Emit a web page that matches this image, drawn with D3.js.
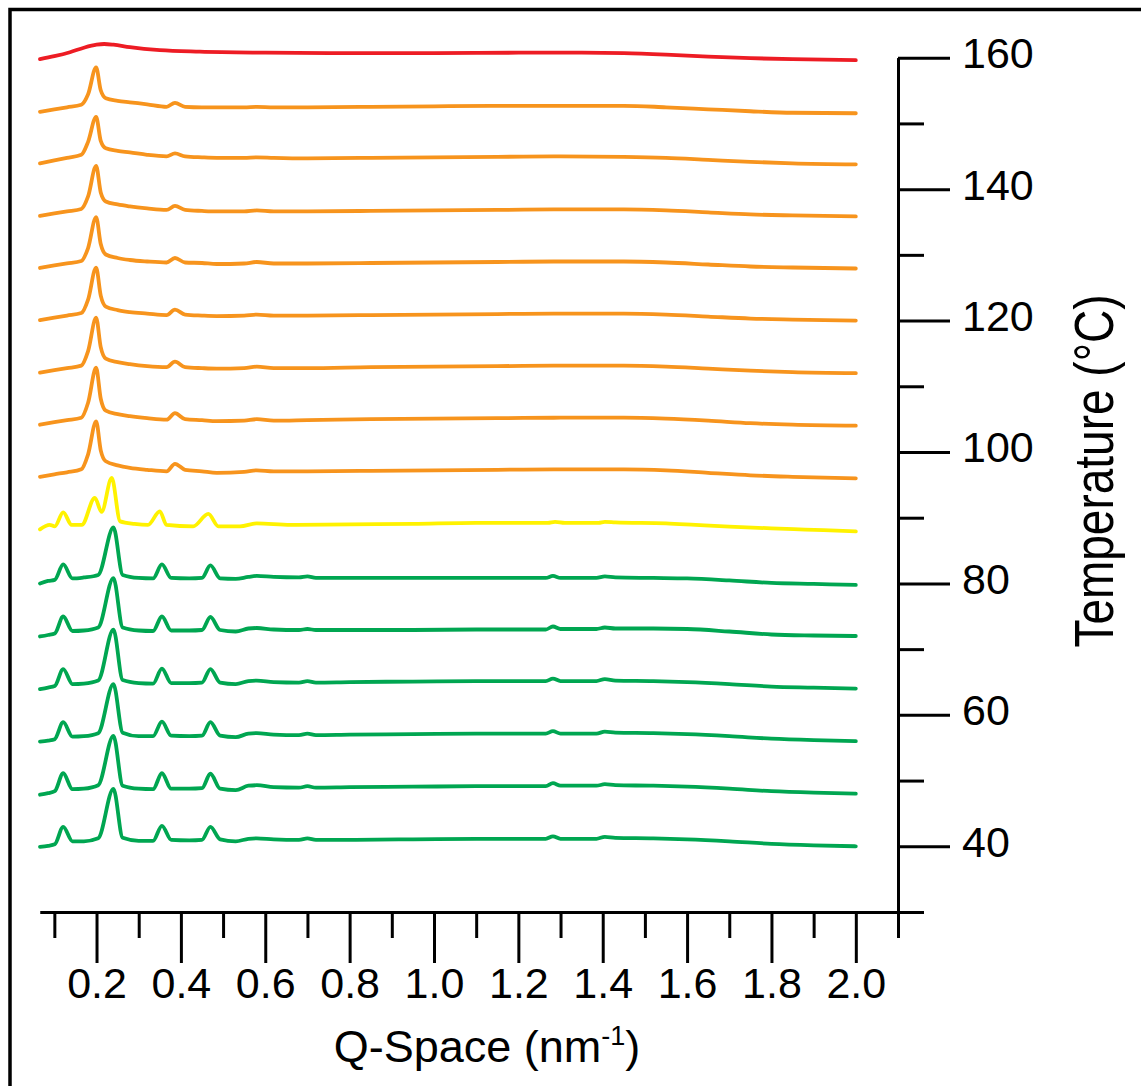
<!DOCTYPE html>
<html>
<head>
<meta charset="utf-8">
<script src="https://cdn.jsdelivr.net/npm/d3@7"></script>
<style>
  body { margin: 0; background: #fff; }
  svg { display: block; }
  text { font-family: "Liberation Sans", Arial, Helvetica, sans-serif; fill: #000; }
</style>
</head>
<body>
<svg id="chart" width="1141" height="1086"></svg>
<script>
// temperatures of the stacked scans (°C), bottom to top
var temps = [40, 48, 56, 64, 72, 80, 88, 96, 104, 112, 120, 128, 136, 144, 152, 160];
var phases = ["green", "green", "green", "green", "green", "green", "yellow",
    "orange", "orange", "orange", "orange", "orange", "orange", "orange", "orange", "red"];
var phaseColor = { green: "#00a651", yellow: "#fff200", orange: "#f7941d", red: "#ed1c24" };

// tick values
var qMajor = [0.2, 0.4, 0.6, 0.8, 1.0, 1.2, 1.4, 1.6, 1.8, 2.0];
var qMinor = [0.1, 0.3, 0.5, 0.7, 0.9, 1.1, 1.3, 1.5, 1.7, 1.9, 2.1];
var tMajor = [40, 60, 80, 100, 120, 140, 160];
var tMinor = [30, 50, 70, 90, 110, 130, 150];

// green scans (40-80 °C), intensity in a.u. above the temperature baseline
var qGreen = [0.066, 0.085, 0.101, 0.121, 0.143, 0.17, 0.204, 0.240, 0.262, 0.30, 0.334, 0.355, 0.377,
    0.42, 0.450, 0.470, 0.493, 0.53, 0.56, 0.58, 0.62, 0.68, 0.70, 0.72, 0.80, 0.95, 1.10, 1.265,
    1.282, 1.30, 1.385, 1.405, 1.43, 1.52, 1.60, 1.70, 1.80, 1.90, 2.0];
var green = [
    // 40
    [-0.5, 0.5, 2, 19.5, 5, 5, 8, 57.5, 8.5, 5.5, 5.5, 20.5, 6.5, 6, 6.5, 19.5, 7, 5, 7.5, 8, 7, 6.5, 8, 6.5,
     6.5, 7, 7.5, 7.5, 10, 7.5, 7.5, 9.5, 8.5, 8, 7, 5, 2.5, 1, 0],
    // 48
    [-1, 0.5, 2.5, 20.5, 4.5, 5, 8.5, 58, 8, 5, 4.5, 20.5, 5, 5, 5.5, 20, 5, 3.5, 8, 8.5, 6.5, 6, 7.5, 6,
     6.5, 7, 7.5, 7.5, 10.5, 8, 8, 9.5, 8.5, 8, 7, 5, 2.5, 1, 0],
    // 56
    [-0.5, 0.5, 2, 19, 4.5, 5, 8, 57, 8.5, 5, 5, 19.5, 5.5, 5, 5.5, 19, 5.5, 4, 7.5, 8, 6.5, 6, 7.5, 6,
     6.5, 7, 7.5, 7.5, 10, 7.5, 7.5, 9.5, 8.5, 8, 7, 5, 2.5, 1, 0],
    // 64
    [-0.5, 1, 2.5, 19.5, 4.5, 5, 8, 59, 8.5, 5.5, 5, 20, 5.5, 5.5, 6, 19.5, 6, 4.5, 7.5, 8, 6.5, 6, 7.5, 6,
     6.5, 7, 7.5, 7.5, 10, 7.5, 7.5, 9.5, 8, 7.5, 6.5, 4.5, 2, 1, 0],
    // 72
    [-0.5, 1, 2.5, 19.5, 5, 5.5, 8.5, 58, 8.5, 5.5, 5, 19.5, 5.5, 5.5, 6, 19, 6, 4.5, 7.5, 8, 6.5, 6, 7, 6,
     6, 6, 6.5, 6.5, 9.5, 7, 7, 8.5, 7.5, 7.5, 7, 4.5, 1.5, 0.5, 0],
    // 80
    [0, 2.5, 3.5, 19, 5, 6, 8.5, 56, 8.5, 5.5, 5, 19, 5.5, 5, 5.5, 18, 5, 4.5, 6.5, 7.5, 6.5, 6, 7, 5.5,
     5.5, 5.5, 5.5, 5.5, 7.5, 5.5, 5.5, 7, 6, 5.5, 5, 3, 0.5, -0.5, -1.5]
];

// yellow scan (88 °C)
var qYellow = [0.066, 0.089, 0.101, 0.121, 0.141, 0.165, 0.196, 0.212, 0.236, 0.256, 0.29, 0.322, 0.350,
    0.366, 0.429, 0.465, 0.489, 0.54, 0.58, 0.66, 0.80, 0.95, 1.10, 1.27, 1.287, 1.31, 1.39, 1.405,
    1.43, 1.55, 1.62, 1.70, 1.80, 1.88, 2.0];
var yellow = [1.5, 6, 4.5, 18.5, 6, 6, 33, 19, 53, 9.5, 7, 6, 19.5, 6, 4.5, 17, 4.5, 4.5, 7.5, 6, 6.5, 7,
    8, 8, 9, 8, 8, 9, 8.5, 7.5, 6, 4.3, 2.5, 1.3, -0.5];

// orange scans (96-152 °C)
var qOrange = [0.066, 0.10, 0.13, 0.164, 0.180, 0.199, 0.210, 0.222, 0.25, 0.279, 0.32, 0.366, 0.386,
    0.41, 0.45, 0.485, 0.55, 0.58, 0.62, 0.70, 0.85, 1.00, 1.15, 1.30, 1.45, 1.55, 1.65, 1.75, 1.85, 2.0];
var orange = [
    // 96
    [1.5, 4, 6, 9, 24, 57, 28, 17, 13, 10.5, 8.5, 7, 14.5, 8.5, 7, 5.5, 6.5, 8, 7, 7, 7.5, 8, 8.5, 9, 9, 8, 5.5, 3, 1.5, 0],
    // 104
    [1, 3.5, 5.5, 8, 23, 58, 27, 15, 11.5, 9.5, 7.5, 6, 12.5, 6.5, 5.5, 4.5, 5, 6.5, 5, 5.5, 6.5, 7, 7.5, 8, 8, 7, 5, 2.5, 1, 0],
    // 112
    [0.5, 3, 5, 7.5, 22, 55.5, 26, 14.5, 11, 9, 7, 6, 11.5, 6, 5, 4.5, 5, 6.5, 5, 5, 6, 6.5, 7, 7.5, 7.5, 6.5, 4.5, 2.5, 1, 0],
    // 120
    [0.5, 3, 5, 7.5, 21, 53, 25, 14, 10.5, 8.5, 7, 5.5, 11, 6, 5, 4.5, 5, 6, 5, 5, 5.5, 6, 6.5, 7, 7, 6, 4, 2, 1, 0],
    // 128
    [0, 2.5, 4.5, 7, 20, 51, 24, 13.5, 10, 8, 6.5, 5.5, 10, 5.5, 5, 4, 4.5, 6, 4.5, 4.5, 5, 5.5, 6, 6.5, 6.5, 5.5, 3.5, 1.5, 0.5, -0.5],
    // 136
    [-0.5, 2, 4, 6.5, 19, 49.5, 23, 14, 11, 9, 7, 5.5, 9.5, 5.5, 4.5, 4, 4, 5, 4, 4, 4.5, 5, 5.5, 6, 6, 5, 3, 1, 0, -1],
    // 144
    [-0.5, 2.5, 5, 8, 21, 46, 22, 14.5, 12, 10.5, 8, 6.5, 9.5, 6.5, 5.5, 5, 5, 5.5, 5, 4.5, 5, 5.5, 6, 6.5, 6, 5, 3, 1, -0.5, -1.5],
    // 152
    [-1.5, 1, 3, 5.5, 16, 43, 20, 12, 9.5, 8, 6, 3.5, 7.5, 3.5, 3, 3, 3, 3.5, 3, 3, 3.5, 4, 4.5, 4.5, 4.5, 3, 1, -1, -2.5, -3]
];

// red scan (160 °C, melt)
var qRed = [0.066, 0.10, 0.137, 0.17, 0.20, 0.218, 0.24, 0.279, 0.35, 0.445, 0.6, 0.8, 1.0, 1.2, 1.35,
    1.45, 1.55, 1.65, 1.75, 1.85, 2.0];
var red = [-1.5, 1.5, 5.5, 10, 13, 13.7, 13, 10.5, 7.5, 6, 5, 4.5, 4.5, 5, 5, 4.5, 3, 1, -0.5, -1.5, -2.5];

// put each scan together with its q grid
var scans = temps.map(function(t, i) {
    var ph = phases[i], q, v;
    if (ph == "green") { q = qGreen; v = green[i]; }
    else if (ph == "yellow") { q = qYellow; v = yellow; }
    else if (ph == "orange") { q = qOrange; v = orange[i - 7]; }
    else { q = qRed; v = red; }
    return { temp: t, color: phaseColor[ph], points: q.map(function(d, j) { return [d, v[j]]; }) };
});

var svg = d3.select("#chart");

var x = d3.scaleLinear().domain([0.066, 2.1]).range([40, 898]);
var y = d3.scaleLinear().domain([30, 160]).range([912, 57.7]);
// a.u. of intensity -> degrees of vertical offset
var offset = d3.scaleLinear().domain([0, 1]).range([0, 0.152]);

// frame round the figure
svg.append("rect")
    .attr("x", 10).attr("y", 9.5)
    .attr("width", 1200).attr("height", 1200)
    .attr("fill", "none").attr("stroke", "#000").attr("stroke-width", 3.5);

// scans
var line = d3.line()
    .x(function(d) { return x(d[0]); })
    .curve(d3.curveMonotoneX);

svg.append("g").selectAll("path")
    .data(scans)
    .enter().append("path")
    .attr("fill", "none")
    .attr("stroke", function(d) { return d.color; })
    .attr("stroke-width", 3.8)
    .attr("stroke-linejoin", "round")
    .attr("stroke-linecap", "round")
    .attr("d", function(s) {
        return line.y(function(d) { return y(s.temp + offset(d[1])); })(s.points);
    });

// bottom axis
var xMinor = svg.append("g")
    .attr("transform", "translate(0,912)")
    .call(d3.axisBottom(x).tickValues(qMinor).tickSize(26).tickSizeOuter(0).tickFormat(""));
var xMajor = svg.append("g")
    .attr("transform", "translate(0,912)")
    .call(d3.axisBottom(x).tickValues(qMajor).tickSize(51).tickSizeOuter(0).tickFormat(d3.format(".1f")));
xMajor.selectAll("text")
    .attr("y", 86).attr("dy", 0)
    .style("font-size", "43px");

// right axis
var yMinor = svg.append("g")
    .attr("transform", "translate(898,0)")
    .call(d3.axisRight(y).tickValues(tMinor).tickSize(26).tickSizeOuter(0).tickFormat(""));
var yMajor = svg.append("g")
    .attr("transform", "translate(898,0)")
    .call(d3.axisRight(y).tickValues(tMajor).tickSize(52).tickSizeOuter(0).tickFormat(d3.format("d")));
yMajor.selectAll("text")
    .attr("x", 64).attr("dy", "0.23em")
    .style("font-size", "43px");

svg.selectAll(".domain, .tick line")
    .attr("stroke", "#000")
    .attr("stroke-width", 3);

// axis titles
var xTitle = svg.append("text")
    .attr("x", 487).attr("y", 1062)
    .attr("text-anchor", "middle")
    .style("font-size", "45px");
xTitle.append("tspan").text("Q-Space (nm");
xTitle.append("tspan").attr("dy", -17).style("font-size", "27px").text("-1");
xTitle.append("tspan").attr("dy", 17).text(")");

svg.append("text")
    .attr("transform", "translate(1113,471) rotate(-90) scale(1,1.22)")
    .attr("text-anchor", "middle")
    .style("font-size", "46px")
    .text("Temperature (°C)");
</script>
</body>
</html>
